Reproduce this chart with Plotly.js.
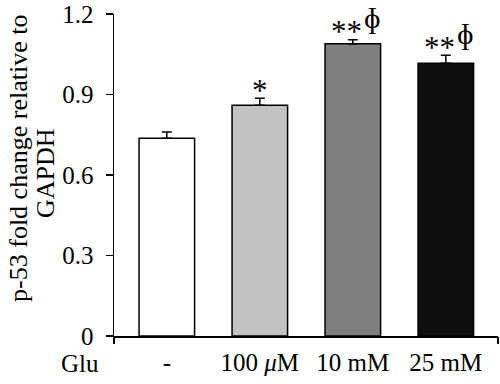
<!DOCTYPE html>
<html>
<head>
<meta charset="utf-8">
<script src="https://cdn.plot.ly/plotly-3.0.1.min.js"></script>
<style>html,body{margin:0;padding:0;background:#fff;}#chart{width:500px;height:384px;}</style>
</head>
<body>
<div id="chart"></div>
<script>
// ---- data ----
const categories = ["-", "100 <i>μ</i>M", "10 mM", "25 mM"];
const foldChange = [0.737, 0.860, 1.089, 1.016];
const sem = [0.023, 0.026, 0.015, 0.030];
const stars = ["", "*", "**", "**"];
const phi = ["", "", "ɸ", "ɸ"];
const yTickVals = [0, 0.3, 0.6, 0.9, 1.2];
const yTickText = ["0", "0.3", "0.6", "0.9", "1.2"];
const groupLabel = "Glu";
const yTitleLine1 = "p-53 fold change relative to";
const yTitleLine2 = "GAPDH";

// ---- styles ----
const barColors = ["#ffffff", "#c2c2c2", "#7f7f7f", "#0f0f0f"];
const FONT = "Liberation Serif, Times New Roman, serif";
const FS = 25;

const trace = {
  type: "bar",
  x: categories,
  y: foldChange,
  width: 0.597,
  marker: {color: barColors, line: {color: "#000", width: 1.5}},
  error_y: {type: "data", array: sem, arrayminus: sem.map(() => 0), symmetric: false,
            color: "#000", thickness: 1.5, width: 5},
  hoverinfo: "none"
};

const annotations = [];
categories.forEach((c, i) => {
  if (stars[i]) {
    annotations.push({x: c, y: foldChange[i] + sem[i], xref: "x", yref: "y",
      text: stars[i], showarrow: false, borderpad: 0,
      xanchor: phi[i] ? "right" : "center", yanchor: "middle",
      xshift: phi[i] ? 10 : 0, yshift: 8, font: {family: FONT, size: 31, color: "#000"}});
  }
  if (phi[i]) {
    annotations.push({x: c, y: foldChange[i] + sem[i], xref: "x", yref: "y",
      text: phi[i], showarrow: false, borderpad: 0, xanchor: "left", yanchor: "middle",
      xshift: 10, yshift: 22, font: {family: FONT, size: 30, color: "#000"}});
  }
});
annotations.push({text: groupLabel, xref: "paper", yref: "paper", x: -0.0885, y: -0.0839,
  xanchor: "center", yanchor: "middle", showarrow: false, font: {family: FONT, size: FS, color: "#000"}});
annotations.push({text: yTitleLine1, xref: "paper", yref: "paper", x: -0.2474, y: 0.553,
  xanchor: "center", yanchor: "middle", textangle: -90, showarrow: false, font: {family: FONT, size: 26, color: "#000"}});
annotations.push({text: yTitleLine2, xref: "paper", yref: "paper", x: -0.1797, y: 0.5062,
  xanchor: "center", yanchor: "middle", textangle: -90, showarrow: false, font: {family: FONT, size: 26, color: "#000"}});

const xRange = [-0.568, 3.561];
const layout = {
  width: 500, height: 384,
  margin: {l: 114, r: 2, t: 14, b: 48, pad: 0},
  paper_bgcolor: "#fff", plot_bgcolor: "#fff",
  showlegend: false,
  font: {family: FONT, size: FS, color: "#000"},
  xaxis: {
    type: "category", range: xRange, showline: true, linecolor: "#000", linewidth: 1.5,
    ticks: "", showgrid: false, zeroline: false, ticklabelstandoff: 3,
    tickfont: {family: FONT, size: FS, color: "#000"}, fixedrange: true
  },
  xaxis2: {
    overlaying: "x", range: xRange, side: "bottom", anchor: "y",
    tickvals: xRange, ticktext: ["", ""], ticks: "outside", ticklen: 7, tickwidth: 1.5, tickcolor: "#000",
    showline: false, showgrid: false, zeroline: false, showticklabels: false, fixedrange: true
  },
  yaxis: {
    range: [0, 1.2], tickvals: yTickVals, ticktext: yTickText, ticks: "outside", ticklen: 7,
    tickwidth: 1.5, tickcolor: "#000", showline: true, linecolor: "#000", linewidth: 1.5,
    showgrid: false, zeroline: false, ticklabelstandoff: 7,
    tickfont: {family: FONT, size: FS, color: "#000"}, fixedrange: true
  },
  annotations: annotations
};

const dummy = {type: "scatter", x: xRange, y: [0, 0], xaxis: "x2", yaxis: "y", mode: "none", hoverinfo: "none", showlegend: false};

Plotly.newPlot("chart", [trace, dummy], layout, {staticPlot: true, displayModeBar: false});
</script>
</body>
</html>
